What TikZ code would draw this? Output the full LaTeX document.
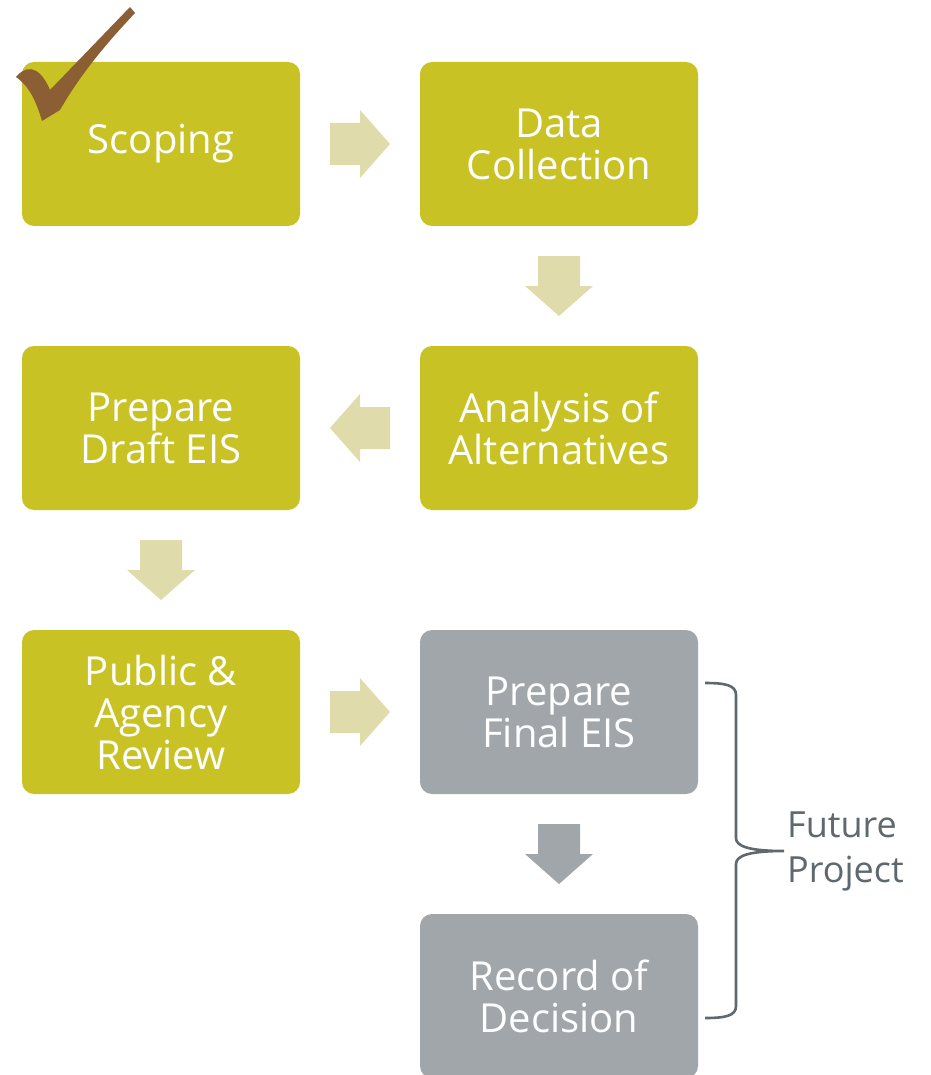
\documentclass[tikz,border=0pt]{standalone}
\usepackage{fontspec}
\setmainfont{Open Sans}
\usepackage{tikz}
\usetikzlibrary{calc, positioning}

\definecolor{stepgreen}{HTML}{C8C224}
\definecolor{stepgray}{HTML}{A0A6A9}
\definecolor{arrowtan}{HTML}{DFDBAB}
\definecolor{bracegray}{HTML}{5E686D}
\definecolor{checkbrown}{HTML}{8B5E34}

\newcommand{\blockarrow}[4]{%
\begin{scope}[shift={($(#2)!0.5!(#3)$)}, rotate=#4]
\fill [#1] (-30,-21) -- (0,-21) -- (0,-34) -- (30,0) -- (0,34) -- (0,21) -- (-30,21) -- cycle;
\end{scope}}

\begin{document}
\begin{tikzpicture}[x=1pt, y=1pt,
  stepbox/.style={fill=stepgreen, rounded corners=12pt, minimum width=278pt, minimum height=164pt,
    inner sep=0pt, text=white, align=center, font=\fontsize{40}{42}\selectfont},
  futurebox/.style={stepbox, fill=stepgray}]
\useasboundingbox (0,0) rectangle (930,-1075);
\node [stepbox] (scoping) at (161,-144) {Scoping};
\node [stepbox] (data) at (559,-144) {Data\\Collection};
\node [stepbox] (analysis) at (559,-428) {Analysis of\\Alternatives};
\node [stepbox] (draft) at (161,-428) {Prepare\\Draft EIS};
\node [stepbox] (review) at (161,-712) {Public \&\\Agency\\Review};
\node [futurebox] (final) at (559,-712) {Prepare\\Final EIS};
\node [futurebox] (record) at (559,-996) {Record of\\Decision};
\blockarrow{arrowtan}{scoping.east}{data.west}{0}
\blockarrow{arrowtan}{data.south}{analysis.north}{-90}
\blockarrow{arrowtan}{analysis.west}{draft.east}{180}
\blockarrow{arrowtan}{draft.south}{review.north}{-90}
\blockarrow{arrowtan}{review.east}{final.west}{0}
\blockarrow{stepgray}{final.south}{record.north}{-90}
\fill [checkbrown] (16,-77) .. controls (24,-67) and (38,-62) .. (50,-90) -- (130,-7) -- (135,-13)
  .. controls (105,-45) and (80,-75) .. (60,-110) -- (42,-121) .. controls (36,-100) and (28,-85) .. cycle;
\draw [bracegray, line width=2.6pt] (705,-683) .. controls (725,-683) and (736,-685) .. (736,-695) -- (736,-838)
  .. controls (736,-846) and (748,-851) .. (784,-851) .. controls (748,-851) and (736,-856) .. (736,-864)
  -- (736,-1006) .. controls (736,-1016) and (725,-1018) .. (705,-1018);
\node [anchor=west, inner sep=2pt, text=bracegray, align=left, font=\fontsize{36}{45}\selectfont] (future) at (785,-851) {Future\\Project};
\end{tikzpicture}
\end{document}
